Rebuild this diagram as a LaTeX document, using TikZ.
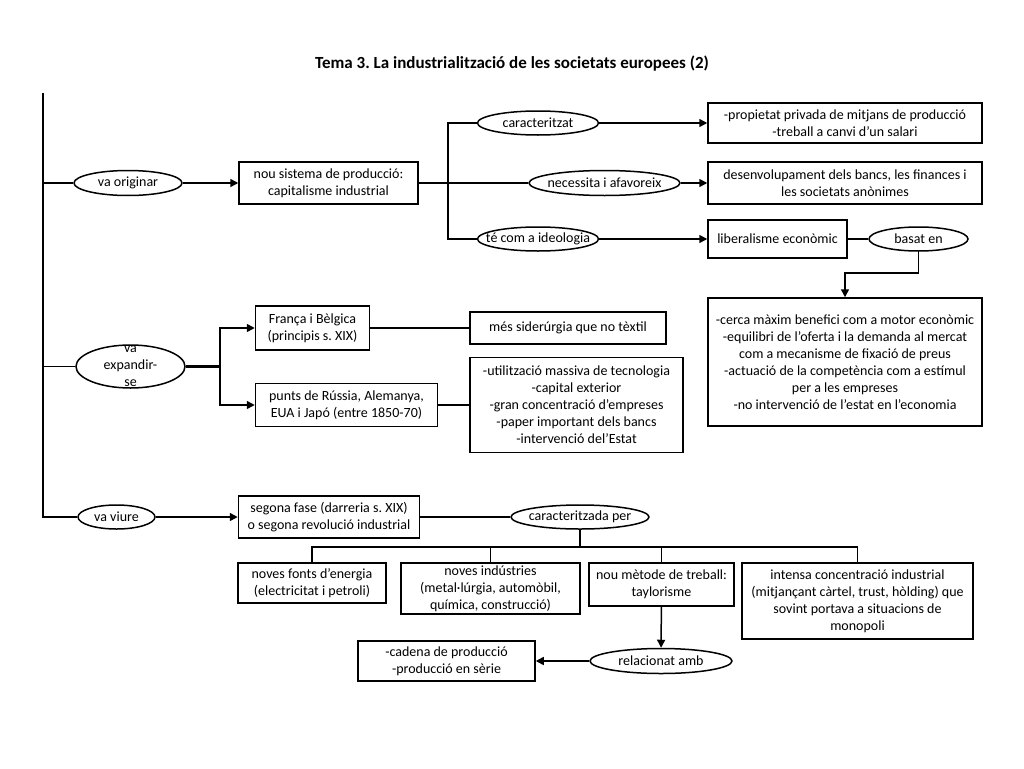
\documentclass[tikz,border=0pt]{standalone}
\usepackage{fontspec}
\setmainfont{Carlito}
\usetikzlibrary{shapes.geometric,arrows.meta}
\frenchspacing
\begin{document}
\begin{tikzpicture}[x=1pt,y=-1pt,line width=1.5pt,>={Triangle[length=8pt,width=8pt]},
    font=\fontsize{14}{17}\selectfont,
    box/.style={draw,rectangle,align=center,inner sep=2pt},
    oval/.style={draw,ellipse,inner sep=0pt,minimum height=24pt}]
    \useasboundingbox (0,0) rectangle (1024,768);
    \node(title) at (512,64){\fontsize{17}{20}\selectfont\bfseries Tema 3. La industrialització de les societats europees (2)};
    \coordinate(top) at (43,93);
    % va originar
    \node[oval,minimum width=108pt,minimum height=25pt,label=center:va originar](vaorig) at (128,183){};
    \node[box,minimum width=179pt,minimum height=42pt](nou) at (328.5,183){nou sistema de producció:\\capitalisme industrial};
    \coordinate(br) at (448,183);
    \node[oval,minimum width=121pt,label=center:caracteritzat](caract) at (538,123){};
    \node[oval,minimum width=151pt,minimum height=25pt,label=center:necessita i afavoreix](neces) at (604.5,183){};
    \node[oval,minimum width=121pt,label=center:té com a ideologia](ideol) at (538,239){};
    \node[box,minimum width=274pt,minimum height=40pt](prop) at (845,123){-propietat privada de mitjans de producció\\-treball a canvi d’un salari};
    \node[box,minimum width=274pt,minimum height=42pt](desen) at (845,183){desenvolupament dels bancs, les finances i\\les societats anònimes};
    \node[box,minimum width=139pt,minimum height=38pt](liber) at (777.5,239){liberalisme econòmic};
    \node[oval,minimum width=99pt,label=center:basat en](basat) at (918.5,239){};
    \node[box,minimum width=274pt,minimum height=128pt](cerca) at (845,362){-cerca màxim benefici com a motor econòmic\\-equilibri de l’oferta i la demanda al mercat\\com a mecanisme de fixació de preus\\-actuació de la competència com a estímul\\per a les empreses\\-no intervenció de l’estat en l’economia};
    % va expandir-se
    \node[oval,minimum width=109pt,minimum height=43pt,label={[align=center]center:va\\expandir-\\se}](vaexp) at (130.5,366.5){};
    \coordinate(exj) at (220,366.5);
    \node[box,minimum width=114pt,minimum height=44pt](franca) at (312.5,328){França i Bèlgica\\(principis s. XIX)};
    \node[box,minimum width=182pt,minimum height=43pt](punts) at (346.5,405){punts de Rússia, Alemanya,\\EUA i Japó (entre 1850-70)};
    \node[box,minimum width=196pt,minimum height=32pt](sider) at (568,328){més siderúrgia que no tèxtil};
    \node[box,minimum width=213pt,minimum height=95pt](util) at (576.5,405){-utilització massiva de tecnologia\\-capital exterior\\-gran concentració d’empreses\\-paper important dels bancs\\-intervenció del’Estat};
    % va viure
    \node[oval,minimum width=77pt,label=center:va viure](vaviure) at (116.5,517){};
    \node[box,minimum width=181pt,minimum height=42pt](segona) at (329,517){segona fase (darreria s. XIX)\\o segona revolució industrial};
    \node[oval,minimum width=138pt,label=center:caracteritzada per](caracper) at (580,517){};
    \coordinate(bus) at (580,547);
    \node[box,minimum width=148pt,minimum height=40pt](fonts) at (312,583){noves fonts d’energia\\(electricitat i petroli)};
    \node[box,minimum width=179pt,minimum height=51pt](indus) at (490.5,588.5){noves indústries\\(metal·lúrgia, automòbil,\\química, construcció)};
    \node[box,minimum width=145pt,minimum height=43pt](metode) at (661.5,584.5){nou mètode de treball:\\taylorisme};
    \node[box,minimum width=231pt,minimum height=76pt](intensa) at (857.5,601){intensa concentració industrial\\(mitjançant càrtel, trust, hòlding) que\\sovint portava a situacions de\\monopoli};
    \node[oval,minimum width=142pt,minimum height=25pt,label=center:relacionat amb](relac) at (661,661){};
    \node[box,minimum width=177pt,minimum height=40pt](cadena) at (446.5,661){-cadena de producció\\-producció en sèrie};
    % connectors
    \draw[-](top) |- (vaviure.west);
    \draw[-](top |- vaorig) -- (vaorig);
    \draw[-](top |- vaexp) -- (vaexp);
    \draw[->](vaorig) -- (nou);
    \draw[-](nou) -- (neces);
    \draw[-](caract.west) -| (br) |- (ideol.west);
    \draw[->](caract) -- (prop);
    \draw[->](neces) -- (desen);
    \draw[->](ideol) -- (liber);
    \draw[-](liber) -- (basat);
    \draw[->](basat.south) -- ++(0,21) -| (cerca.north);
    \draw[-,line width=2.2pt](vaexp) -- (exj);
    \draw[->](exj) |- (franca);
    \draw[->](exj) |- (punts);
    \draw[-](franca) -- (sider);
    \draw[-](punts) -- (util);
    \draw[->](vaviure) -- (segona);
    \draw[-](segona) -- (caracper);
    \draw[-](caracper) -- (bus);
    \draw[-](fonts.north) |- (bus) -| (intensa.north);
    \draw[-](indus.north) -- (indus.north |- bus);
    \draw[-](metode.north) -- (metode.north |- bus);
    \draw[->](metode) -- (relac);
    \draw[->](relac) -- (cadena);
\end{tikzpicture}
\end{document}
